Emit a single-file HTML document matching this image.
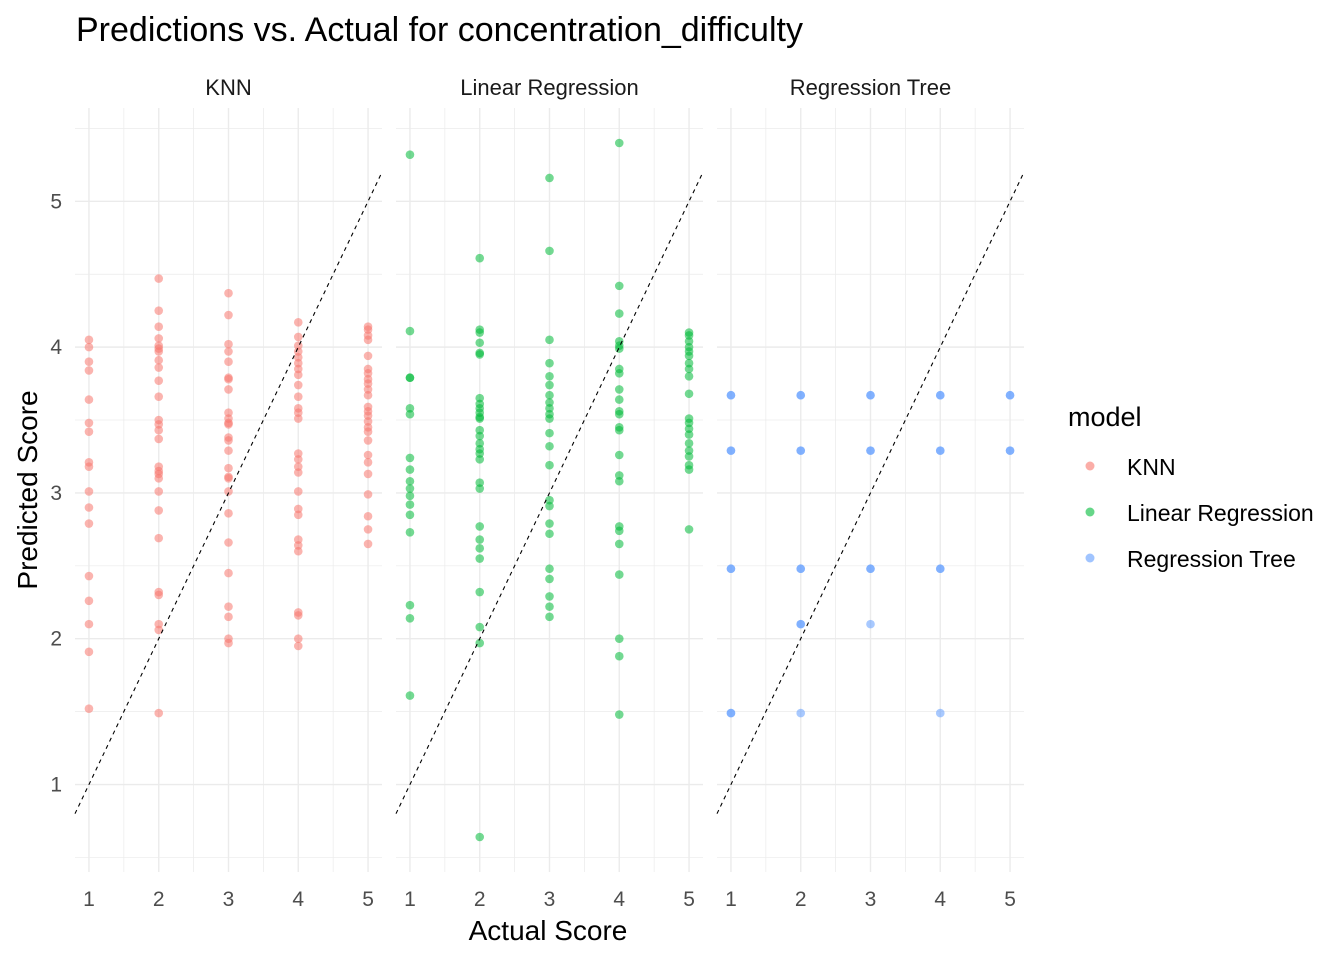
<!DOCTYPE html>
<html><head><meta charset="utf-8">
<style>
body{margin:0;background:#fff;}
svg{display:block;font-family:"Liberation Sans",Arial,sans-serif;}
</style></head>
<body>
<svg id="chart" width="1344" height="960">
<text x="76" y="41" font-size="34" fill="#000">Predictions vs. Actual for concentration_difficulty</text>
<text x="548" y="940" font-size="28" text-anchor="middle" fill="#000">Actual Score</text>
<text transform="translate(37,490) rotate(-90)" font-size="28" text-anchor="middle" fill="#000">Predicted Score</text>
<g>
<text x="1068" y="426" font-size="27" fill="#000">model</text>
<circle cx="1090" cy="466" r="4.5" fill="#F8766D" fill-opacity="0.6"/>
<text x="1127" y="475" font-size="23">KNN</text>
<circle cx="1090" cy="512" r="4.5" fill="#00BA38" fill-opacity="0.6"/>
<text x="1127" y="521" font-size="23">Linear Regression</text>
<circle cx="1090" cy="558" r="4.5" fill="#619CFF" fill-opacity="0.6"/>
<text x="1127" y="567" font-size="23">Regression Tree</text>
</g>
</svg>
<script>
const panelNames = ["KNN","Linear Regression","Regression Tree"];
const colors = ["#F8766D","#00BA38","#619CFF"];
const xTicks = [1,2,3,4,5];
const yTicks = [1,2,3,4,5];
const knn1=[4.05,4.0,3.9,3.84,3.64,3.48,3.42,3.21,3.18,3.01,2.9,2.79,2.43,2.26,2.1,1.91,1.52];
const knn2=[4.47,4.25,4.14,4.06,4.01,3.99,3.97,3.91,3.86,3.77,3.66,3.5,3.47,3.43,3.37,3.18,3.15,3.13,3.1,3.01,2.88,2.69,2.32,2.3,2.1,2.06,1.49];
const knn3=[4.37,4.22,4.02,3.97,3.9,3.79,3.78,3.71,3.55,3.51,3.48,3.47,3.38,3.36,3.29,3.17,3.11,3.1,3.01,2.86,2.66,2.45,2.22,2.15,2.0,1.97];
const knn4=[4.17,4.07,4.01,3.97,3.93,3.89,3.85,3.81,3.74,3.66,3.58,3.55,3.51,3.27,3.23,3.18,3.14,3.01,2.89,2.85,2.68,2.64,2.6,2.18,2.16,2.0,1.95];
const knn5=[4.14,4.12,4.08,4.05,3.94,3.85,3.82,3.78,3.75,3.71,3.67,3.59,3.56,3.53,3.49,3.45,3.42,3.36,3.26,3.21,3.13,2.99,2.84,2.75,2.65];
const lr1=[5.32,4.11,3.79,3.79,3.58,3.54,3.24,3.16,3.08,3.03,2.98,2.92,2.85,2.73,2.23,2.14,1.61];
const lr2=[4.61,4.12,4.1,4.03,3.96,3.95,3.65,3.61,3.58,3.55,3.52,3.51,3.43,3.39,3.34,3.3,3.27,3.23,3.07,3.03,2.77,2.68,2.62,2.55,2.32,2.08,1.97,0.64];
const lr3=[5.16,4.66,4.05,3.89,3.8,3.74,3.67,3.62,3.58,3.54,3.51,3.41,3.32,3.19,2.95,2.91,2.79,2.72,2.48,2.41,2.29,2.22,2.15];
const lr4=[5.4,4.42,4.23,4.04,4.01,3.99,3.85,3.82,3.71,3.64,3.56,3.54,3.45,3.43,3.26,3.12,3.08,2.77,2.74,2.65,2.44,2.0,1.88,1.48];
const lr5=[4.1,4.08,4.04,4.0,3.97,3.94,3.89,3.85,3.8,3.68,3.51,3.48,3.44,3.4,3.34,3.29,3.25,3.19,3.16,2.75];
const rt1=[3.67,3.67,3.29,3.29,2.48,2.48,1.49,1.49];
const rt2=[3.67,3.67,3.29,3.29,2.48,2.48,2.1,2.1,1.49];
const rt3=[3.67,3.67,3.29,3.29,2.48,2.48,2.1];
const rt4=[3.67,3.67,3.29,3.29,2.48,2.48,1.49];
const rt5=[3.67,3.67,3.29,3.29];
const series=[[knn1,knn2,knn3,knn4,knn5],[lr1,lr2,lr3,lr4,lr5],[rt1,rt2,rt3,rt4,rt5]];

const NS="http://www.w3.org/2000/svg";
const svg=document.getElementById("chart");
const panelLeft=[75,396,717], panelW=307, panelTop=108, panelBottom=872;
const xMin=0.8,xMax=5.2,yMin=0.4,yMax=5.64;
function sx(p,v){return panelLeft[p]+(v-xMin)/(xMax-xMin)*panelW;}
function sy(v){return panelBottom-(v-yMin)/(yMax-yMin)*(panelBottom-panelTop);}
function mk(tag,attrs){const e=document.createElementNS(NS,tag);for(const k in attrs)e.setAttribute(k,attrs[k]);return e;}
for(let p=0;p<3;p++){
  const g=mk("g",{});
  
  
  svg.appendChild(g);
  const x0=panelLeft[p],x1=x0+panelW;
  for(let v=0.5;v<=5.5;v+=0.5){
    const y=sy(v);if(y<panelTop||y>panelBottom)continue;
    const l=mk("line",{x1:x0,x2:x1,y1:y,y2:y,stroke:"#ebebeb","stroke-width":Number.isInteger(v)?1.4:0.7});
    
    
    g.appendChild(l);
  }
  for(let v=1;v<=5;v+=0.5){
    const x=sx(p,v);
    const l=mk("line",{x1:x,x2:x,y1:panelTop,y2:panelBottom,stroke:"#ebebeb","stroke-width":Number.isInteger(v)?1.4:0.7});
    
    
    g.appendChild(l);
  }
  const s=mk("text",{x:x0+panelW/2,y:95,"font-size":22,"text-anchor":"middle",fill:"#1a1a1a"});
  s.textContent=panelNames[p];
  
  
  g.appendChild(s);
  xTicks.forEach(t=>{
    const tx=mk("text",{x:sx(p,t),y:906,"font-size":21,"text-anchor":"middle",fill:"#4d4d4d"});
    tx.textContent=t;
    
    
    g.appendChild(tx);
  });
  series[p].forEach((vals,i)=>{
    vals.forEach(v=>{
      const c=mk("circle",{cx:sx(p,xTicks[i]),cy:sy(v),r:4.3,fill:colors[p],"fill-opacity":0.55});
      
      
      g.appendChild(c);
    });
  });
  const d=mk("line",{x1:sx(p,xMin),y1:sy(xMin),x2:sx(p,xMax),y2:sy(xMax),stroke:"#000","stroke-width":1.1,"stroke-dasharray":"4,4"});
  
  
  g.appendChild(d);
}
yTicks.forEach(t=>{
  const ty=mk("text",{x:62,y:sy(t)+7,"font-size":21,"text-anchor":"end",fill:"#4d4d4d"});
  ty.textContent=t;
  
  
  svg.appendChild(ty);
});
</script>
</body></html>
